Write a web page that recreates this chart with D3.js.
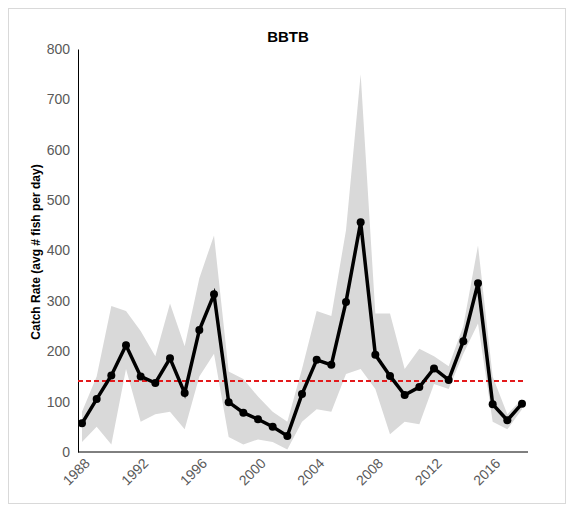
<!DOCTYPE html>
<html><head><meta charset="utf-8">
<script src="https://cdn.jsdelivr.net/npm/d3@7"></script>
<style>body{margin:0;background:#fff;font-family:Arial,"Liberation Sans",sans-serif}</style>
</head><body>
<svg id="c" width="574" height="510"></svg>
<script>
const years = d3.range(1988, 2019);
const rate  = [57,105,152,212,150,137,186,117,242,313,99,78,65,50,32,115,183,173,298,456,193,151,113,129,166,143,220,335,95,63,96];
const upper = [80,150,290,280,240,190,295,210,345,430,160,145,110,80,60,165,280,270,440,750,275,275,165,205,190,170,250,410,150,75,105];
const lower = [20,50,15,165,60,75,80,45,150,195,30,15,25,20,5,60,85,80,155,165,125,35,60,55,135,125,195,255,60,45,85];
const meanRate = 141;
const yTicks = [0,100,200,300,400,500,600,700,800];
const xTicks = [1988,1992,1996,2000,2004,2008,2012,2016];

const svg = d3.select("#c");
svg.append("rect").attr("x",8.5).attr("y",8.5).attr("width",557).attr("height",495)
  .attr("fill","none").attr("stroke","#d9d9d9");

const x = d3.scaleLinear().domain([1988,2018]).range([82,522]);
const y = d3.scaleLinear().domain([0,800]).range([452,49]);

svg.append("path").datum(years.map((d,i)=>i))
  .attr("fill","#d9d9d9")
  .attr("d", d3.area().x(i=>x(years[i])).y0(i=>y(lower[i])).y1(i=>y(upper[i])));

const yAx = svg.append("g").attr("transform","translate(78,0)")
  .call(d3.axisLeft(y).tickValues(yTicks).tickSize(0).tickPadding(8));
yAx.select(".domain").attr("stroke","#000");
yAx.selectAll("text").attr("font-size",14).attr("fill","#595959").attr("font-family","Arial, Liberation Sans");

const xAx = svg.append("g").attr("transform","translate(0,452)")
  .call(d3.axisBottom(x).tickValues(xTicks).tickFormat(d3.format("d")).tickSize(0).tickPadding(6));
xAx.select(".domain").attr("stroke","#000").attr("d","M78,0H528");
xAx.selectAll("text").attr("font-size",14).attr("fill","#595959").attr("font-family","Arial, Liberation Sans")
  .attr("text-anchor","end").attr("transform","rotate(-45)").attr("dx","-0.2em").attr("dy","0.6em");

svg.append("line").attr("x1",x(1988)-4).attr("x2",x(2018)+4)
  .attr("y1",y(meanRate)).attr("y2",y(meanRate))
  .attr("stroke","#e31a1c").attr("stroke-width",2).attr("stroke-dasharray","5,3");

svg.append("path").datum(rate)
  .attr("fill","none").attr("stroke","#000").attr("stroke-width",3.5)
  .attr("d", d3.line().x((d,i)=>x(years[i])).y(d=>y(d)));
svg.selectAll("circle.p").data(rate).join("circle")
  .attr("cx",(d,i)=>x(years[i])).attr("cy",d=>y(d)).attr("r",4).attr("fill","#000");

svg.append("text").attr("x",288).attr("y",42).attr("text-anchor","middle")
  .attr("font-size",15).attr("font-weight","bold").text("BBTB");
svg.append("text").attr("transform","translate(40,252) rotate(-90)").attr("text-anchor","middle")
  .attr("font-size",12).attr("font-weight","bold").text("Catch Rate (avg # fish per day)");
</script>
</body></html>
